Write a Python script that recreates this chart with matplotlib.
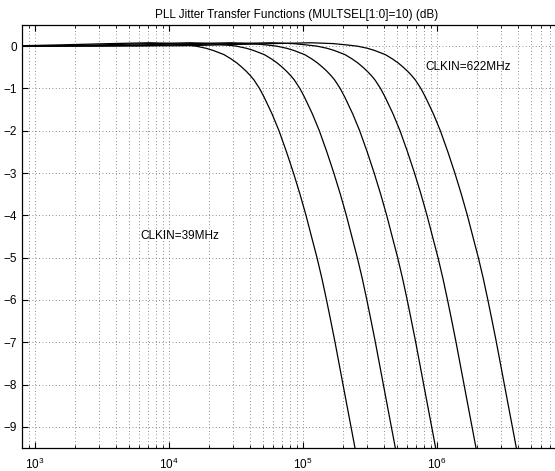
import numpy as np
import matplotlib
matplotlib.use("Agg")
import matplotlib.pyplot as plt
from matplotlib.ticker import LogLocator, NullFormatter, FixedLocator, LogFormatterMathtext

plt.rcParams['font.family'] = ['Liberation Sans', 'DejaVu Sans']
plt.rcParams['mathtext.fontset'] = 'custom'
plt.rcParams['mathtext.rm'] = 'Liberation Sans'
plt.rcParams['mathtext.it'] = 'Liberation Sans'

# shared gain levels (dB) along each curve
gain_db = [0.0, 0.01, 0.03, 0.06, 0.08, 0.06, 0.03, 0.0,
           -0.05, -0.1, -0.2, -0.3, -0.4, -0.5, -0.6, -0.7, -0.8,
           -1.0, -1.2, -1.4, -1.6, -1.8, -2.0,
           -2.5, -3.0, -3.5, -4.0, -4.5, -5.0,
           -5.5, -6.0, -6.5, -7.0, -7.5, -8.0,
           -8.5, -9.0, -9.5, -9.8]

# frequency (Hz) at which each curve passes the gain levels above
freq_39 = [700, 800, 1537, 3627, 7215, 10530, 13165, 15905,
           18885, 21300, 25730, 29010, 32170, 35050, 37880, 40570, 43090,
           47370, 51170, 54820, 58720, 62350, 66210,
           75330, 84940, 94970, 105300, 115700, 127200,
           138600, 149800, 161300, 173400, 185700, 198900,
           213000, 228200, 244400, 255100]
freq_78 = [700, 1600, 3074, 7254, 14430, 21060, 26330, 31810,
           37770, 42600, 51460, 58020, 64340, 70100, 75760, 81140, 86180,
           94740, 102340, 109640, 117440, 124700, 132420,
           150660, 169880, 189940, 210600, 231400, 254400,
           277200, 299600, 322600, 346800, 371400, 397800,
           426000, 456400, 488800, 510200]
freq_155 = [700, 3200, 6148, 14508, 28860, 42120, 52660, 63620,
            75540, 85200, 102920, 116040, 128680, 140200, 151520, 162280, 172360,
            189480, 204680, 219280, 234880, 249400, 264840,
            301320, 339760, 379880, 421200, 462800, 508800,
            554400, 599200, 645200, 693600, 742800, 795600,
            852000, 912800, 977600, 1020400]
freq_311 = [700, 6400, 12296, 29016, 57720, 84240, 105320, 127240,
            151080, 170400, 205840, 232080, 257360, 280400, 303040, 324560, 344720,
            378960, 409360, 438560, 469760, 498800, 529680,
            602640, 679520, 759760, 842400, 925600, 1017600,
            1108800, 1198400, 1290400, 1387200, 1485600, 1591200,
            1704000, 1825600, 1955200, 2040800]
freq_622 = [700, 12800, 24592, 58032, 115440, 168480, 210640, 254480,
            302160, 340800, 411680, 464160, 514720, 560800, 606080, 649120, 689440,
            757920, 818720, 877120, 939520, 997600, 1059360,
            1205280, 1359040, 1519520, 1684800, 1851200, 2035200,
            2217600, 2396800, 2580800, 2774400, 2971200, 3182400,
            3408000, 3651200, 3910400, 4081600]

curves = [freq_39, freq_78, freq_155, freq_311, freq_622]
x_ticks = [1e3, 1e4, 1e5, 1e6]
y_ticks = list(range(-9, 1))

fig = plt.figure(figsize=(5.55, 4.71), dpi=100)
ax = fig.add_axes([22 / 555, 23 / 471, 549 / 555, 423 / 471])

for freqs in curves:
    ax.plot(freqs, gain_db, color='black', linewidth=0.9)

ax.set_xscale('log')
ax.set_xlim(800, 1e7)
ax.set_ylim(-9.5, 0.5)

ax.xaxis.set_major_locator(FixedLocator(x_ticks))
ax.xaxis.set_major_formatter(LogFormatterMathtext())
ax.xaxis.set_minor_locator(LogLocator(base=10, subs=np.arange(2, 10), numticks=20))
ax.xaxis.set_minor_formatter(NullFormatter())
ax.yaxis.set_major_locator(FixedLocator(y_ticks))

ax.grid(which='major', axis='both', color='0.4', linestyle=(0, (1, 3)), linewidth=0.6)
ax.grid(which='minor', axis='x', color='0.4', linestyle=(0, (1, 3)), linewidth=0.6)

ax.tick_params(which='both', direction='in', top=True, right=True, labelsize=8.5)
ax.tick_params(which='major', length=4, width=0.8)
ax.tick_params(which='minor', length=2, width=0.6)
ax.tick_params(axis='x', pad=6)
for sp in ax.spines.values():
    sp.set_linewidth(0.9)

ax.set_title('PLL Jitter Transfer Functions (MULTSEL[1:0]=10) (dB)', fontsize=8.5, pad=5)
ax.text(6080, -4.49, 'CLKIN=39MHz', fontsize=8.5, va='center')
ax.text(813000, -0.5, 'CLKIN=622MHz', fontsize=8.5, va='center')

fig.savefig('out.png', dpi=100)
